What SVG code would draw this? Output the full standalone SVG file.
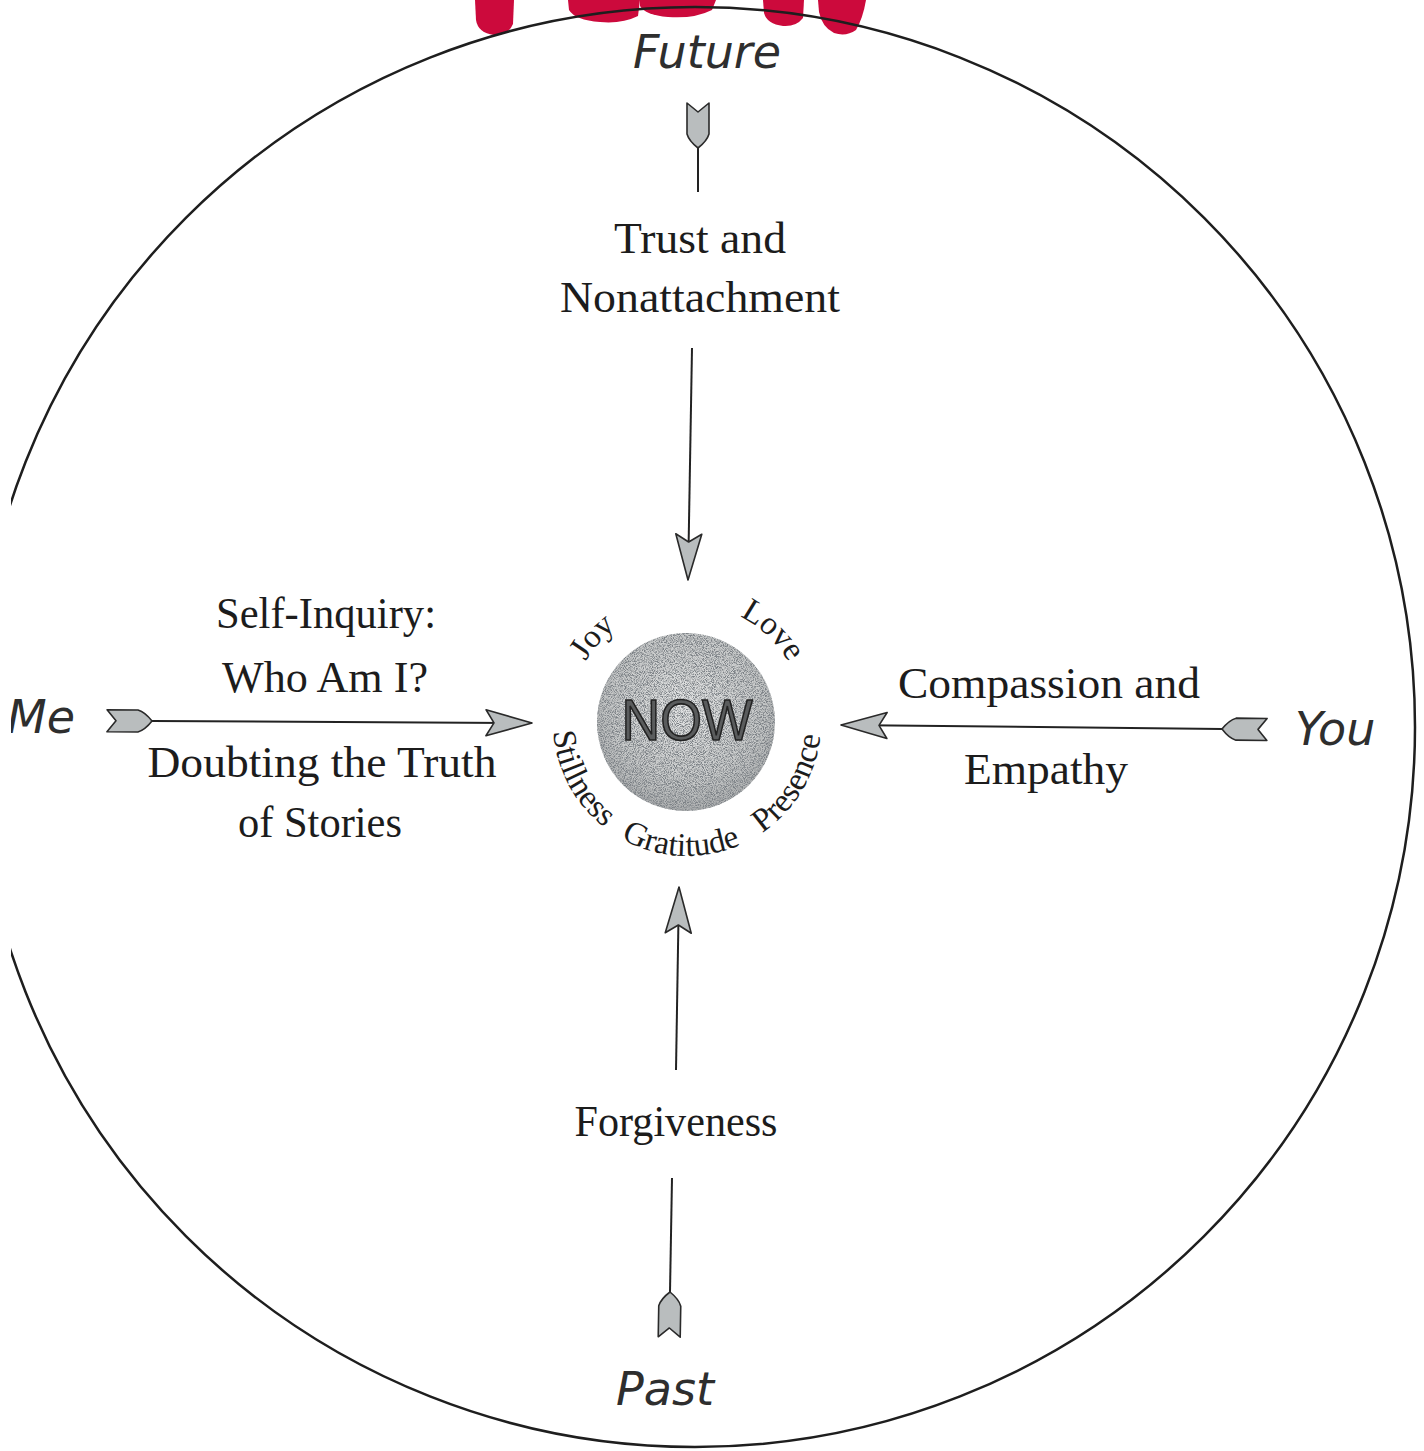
<svg xmlns="http://www.w3.org/2000/svg" width="1424" height="1451" viewBox="0 0 1424 1451">
<style>
.serif{font-family:"Liberation Serif","DejaVu Serif",serif;font-size:45px;fill:#1c1c1c}
.pole{font-family:"DejaVu Sans","Liberation Sans",sans-serif;font-style:oblique;font-size:46px;fill:#2e2e2e}
.arc{font-family:"Liberation Serif","DejaVu Serif",serif;font-size:33px;fill:#1c1c1c}
.conn{fill:none;stroke:#222;stroke-width:2}
.ink{fill:#cc0a3c}
</style>
<defs>
<marker id="head" viewBox="-48 -16 50 32" refX="0" refY="0" markerWidth="50" markerHeight="32" markerUnits="userSpaceOnUse" orient="auto">
<path d="M0,0 L-46,-13 L-38,0 L-46,13 Z" fill="#b9bdbe" stroke="#2a2a2a" stroke-width="1.6" stroke-linejoin="round"/>
</marker>
<marker id="fletch" viewBox="-48 -15 50 30" refX="0" refY="0" markerWidth="50" markerHeight="30" markerUnits="userSpaceOnUse" orient="auto">
<path d="M0,0 Q-7,-9 -14,-11 L-45,-11 L-36,0 L-45,11 L-14,11 Q-7,9 0,0 Z" fill="#b9bdbe" stroke="#2a2a2a" stroke-width="1.6" stroke-linejoin="round"/>
</marker>
<radialGradient id="nowfill" cx="0.5" cy="0.42" r="0.6">
<stop offset="0" stop-color="#e6e7e7"/>
<stop offset="0.7" stop-color="#c8caca"/>
<stop offset="1" stop-color="#a9abac"/>
</radialGradient>
<filter id="speckle" x="0" y="0" width="100%" height="100%">
<feTurbulence type="fractalNoise" baseFrequency="1.1" numOctaves="2" seed="7" result="n"/>
<feColorMatrix in="n" type="matrix" values="0 0 0 0 0.2  0 0 0 0 0.22  0 0 0 0 0.24  3.4 0 0 0 -1.3" result="dots"/>
<feComposite in="dots" in2="SourceGraphic" operator="in" result="cdots"/>
<feMerge><feMergeNode in="SourceGraphic"/><feMergeNode in="cdots"/></feMerge>
</filter>
<path id="topArc" d="M569,722 A118,118 0 0 1 805,722"/>
<path id="botArc" d="M555.04,698.73 A134,134 0 1 0 818.96,698.73"/>
</defs>
<rect width="1424" height="1451" fill="#fff"/>

<g id="ink-marks">
<path class="ink" d="M475,0 L514,0 L513,24 Q508,36 494,35 Q478,33 476,20 Z"/>
<path class="ink" d="M568,0 L640,0 L638,16 Q622,24 600,22 Q575,20 569,10 Z"/>
<path class="ink" d="M640,0 L716,0 L712,10 Q694,19 668,17 Q645,15 640,6 Z"/>
<path class="ink" d="M763,0 L804,0 L803,18 Q796,27 783,26 Q767,24 764,13 Z"/>
<path class="ink" d="M818,0 L866,0 Q863,18 856,30 Q846,37 834,33 Q822,27 819,12 Z"/>
</g>

<g id="boundary">
<circle cx="695" cy="727" r="720" fill="none" stroke="#1e1e1e" stroke-width="2.5"/>
</g>

<g id="connectors">
<path class="conn" d="M698,148 L698,192" marker-start="url(#fletch)"/>
<path class="conn" d="M692,348 L688,580" marker-end="url(#head)"/>
<path class="conn" d="M152,721 L532,723" marker-start="url(#fletch)" marker-end="url(#head)"/>
<path class="conn" d="M1222,729 L841,725" marker-start="url(#fletch)" marker-end="url(#head)"/>
<path class="conn" d="M676,1070 L679,887" marker-end="url(#head)"/>
<path class="conn" d="M670,1292 L672,1178" marker-start="url(#fletch)"/>
</g>

<g id="node-future"><text class="pole" x="707" y="68" text-anchor="middle">Future</text></g>
<g id="node-past"><text class="pole" x="665" y="1405" text-anchor="middle">Past</text></g>
<g id="node-me"><text class="pole" x="75" y="733" text-anchor="end">Me</text></g>
<g id="node-you"><text class="pole" x="1295" y="745" font-size="44">You</text></g>

<g id="node-trust">
<text class="serif" x="700" y="253" text-anchor="middle" textLength="172" lengthAdjust="spacingAndGlyphs">Trust and</text>
<text class="serif" x="700" y="312" text-anchor="middle" textLength="280" lengthAdjust="spacingAndGlyphs">Nonattachment</text>
</g>
<g id="node-selfinquiry">
<text class="serif" x="326" y="628" text-anchor="middle" textLength="220" lengthAdjust="spacingAndGlyphs">Self-Inquiry:</text>
<text class="serif" x="325" y="692" text-anchor="middle" textLength="206" lengthAdjust="spacingAndGlyphs">Who Am I?</text>
</g>
<g id="node-doubting">
<text class="serif" x="322" y="777" text-anchor="middle" textLength="349" lengthAdjust="spacingAndGlyphs">Doubting the Truth</text>
<text class="serif" x="320" y="837" text-anchor="middle" textLength="164" lengthAdjust="spacingAndGlyphs">of Stories</text>
</g>
<g id="node-compassion">
<text class="serif" x="1049" y="698" text-anchor="middle" textLength="302" lengthAdjust="spacingAndGlyphs">Compassion and</text>
<text class="serif" x="1046" y="784" text-anchor="middle" textLength="164" lengthAdjust="spacingAndGlyphs">Empathy</text>
</g>
<g id="node-forgiveness">
<text class="serif" x="676" y="1136" text-anchor="middle" textLength="203" lengthAdjust="spacingAndGlyphs">Forgiveness</text>
</g>

<g id="node-now">
<circle cx="686" cy="722" r="89" fill="url(#nowfill)" filter="url(#speckle)"/>
<text x="687" y="740" text-anchor="middle" font-family="'Liberation Sans','DejaVu Sans',sans-serif" font-size="57" textLength="131" lengthAdjust="spacingAndGlyphs" fill="#5a5c5d" stroke="#222" stroke-width="1.6">NOW</text>
<text class="arc" font-size="36"><textPath href="#topArc" startOffset="86.5" text-anchor="middle">Joy</textPath></text>
<text class="arc" font-size="36"><textPath href="#topArc" startOffset="274" text-anchor="middle">Love</textPath></text>
<text class="arc"><textPath href="#botArc" startOffset="89" text-anchor="middle">Stillness</textPath></text>
<text class="arc"><textPath href="#botArc" startOffset="227" text-anchor="middle">Gratitude</textPath></text>
<text class="arc"><textPath href="#botArc" startOffset="372" text-anchor="middle">Presence</textPath></text>
</g>

<rect x="0" y="0" width="11" height="1451" fill="#fff"/>
</svg>
